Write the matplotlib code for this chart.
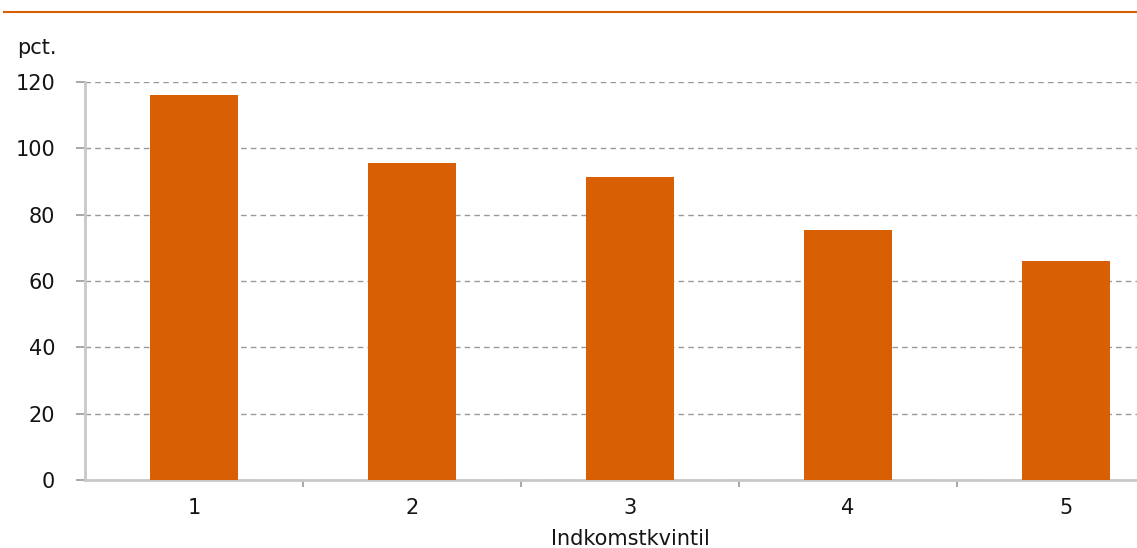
import matplotlib.pyplot as plt
import numpy as np

# data
kvintiler = ["1", "2", "3", "4", "5"]
andel = [116, 95.5, 91.5, 75.5, 66]
yticks = [0, 20, 40, 60, 80, 100, 120]

orange = "#D95F04"
axgrey = "#C8C8C8"
txt = "#141414"
fs = 15

fig = plt.figure(figsize=(11.37, 5.48), dpi=100)
# axes extend a little past the right edge, as in the cropped original
ax = fig.add_axes([85 / 1137, 68 / 548, 1090 / 1137, 398 / 548])

x = np.arange(len(kvintiler))
ax.bar(x, andel, width=0.405, color=orange, zorder=3)

ax.set_xlim(-0.5, len(kvintiler) - 0.5)
ax.set_ylim(0, 120)
ax.set_yticks(yticks)
ax.set_xticks(x)
ax.set_xticklabels(kvintiler)
ax.set_xticks(np.arange(0.5, len(kvintiler) - 0.5), minor=True)

ax.yaxis.grid(True, linestyle=(0, (4, 3)), color="#999999", linewidth=1, zorder=0)
ax.set_axisbelow(True)

for s in ["top", "right"]:
    ax.spines[s].set_visible(False)
for s in ["left", "bottom"]:
    ax.spines[s].set_color(axgrey)
    ax.spines[s].set_linewidth(2)

ax.tick_params(axis="y", length=6.5, width=1.2, color="#999999", pad=15,
               labelsize=fs, labelcolor=txt)
ax.tick_params(axis="x", which="major", length=0, pad=13,
               labelsize=fs, labelcolor=txt)
ax.tick_params(axis="x", which="minor", length=5, width=1.2, color="#999999")

ax.set_xlabel("Indkomstkvintil", fontsize=fs, color=txt, labelpad=8)
fig.text(17 / 1137, 1 - 48 / 548, "pct.", fontsize=fs, color=txt,
         va="center", ha="left")

# orange rule across the top
fig.add_artist(plt.Line2D([4 / 1137, 1], [1 - 12 / 548, 1 - 12 / 548],
                          color=orange, linewidth=1.5))

fig.savefig("out.png", dpi=100)
